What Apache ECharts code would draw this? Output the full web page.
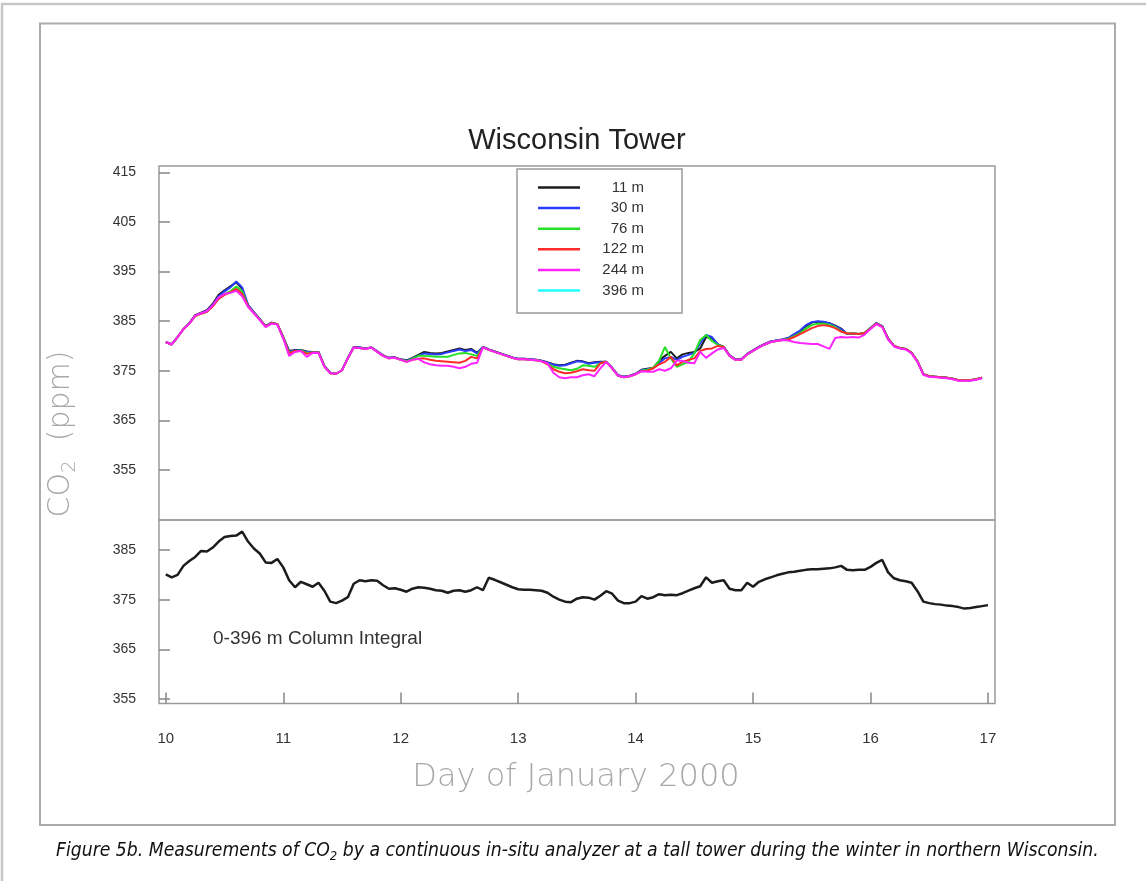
<!DOCTYPE html>
<html><head><meta charset="utf-8">
<script src="https://cdn.jsdelivr.net/npm/echarts@6/dist/echarts.min.js"></script>
<style>html,body{margin:0;padding:0;background:#fff;overflow:hidden}#c{width:1146px;height:881px;}</style>
</head><body><div id="c"></div>
<script>
// ---- data ----
const days = [
10,10.05,10.1,10.15,10.2,10.25,10.3,10.35,10.4,10.45,
10.5,10.55,10.6,10.65,10.7,10.75,10.8,10.85,10.9,10.95,
11,11.05,11.1,11.15,11.2,11.25,11.3,11.35,11.4,11.45,
11.5,11.55,11.6,11.65,11.7,11.75,11.8,11.85,11.9,11.95,
12,12.05,12.1,12.15,12.2,12.25,12.3,12.35,12.4,12.45,
12.5,12.55,12.6,12.65,12.7,12.75,12.8,12.85,12.9,12.95,
13,13.05,13.1,13.15,13.2,13.25,13.3,13.35,13.4,13.45,
13.5,13.55,13.6,13.65,13.7,13.75,13.8,13.85,13.9,13.95,
14,14.05,14.1,14.15,14.2,14.25,14.3,14.35,14.4,14.45,
14.5,14.55,14.6,14.65,14.7,14.75,14.8,14.85,14.9,14.95,
15,15.05,15.1,15.15,15.2,15.25,15.3,15.35,15.4,15.45,
15.5,15.55,15.6,15.65,15.7,15.75,15.8,15.85,15.9,15.95,
16,16.05,16.1,16.15,16.2,16.25,16.3,16.35,16.4,16.45,
16.5,16.55,16.6,16.65,16.7,16.75,16.8,16.85,16.9,16.95];

const co2_11m = [
380.8,380.3,381.8,383.4,384.6,386.2,386.7,387.2,388.5,390.3,
391.2,392.0,392.8,391.5,388.2,386.8,385.4,384.0,384.7,384.4,
381.8,379.0,379.2,379.2,378.9,378.8,378.8,376.0,374.6,374.4,
375.1,377.6,379.8,379.7,379.5,379.7,378.9,378.1,377.6,377.7,
377.3,377.1,377.6,378.2,378.8,378.6,378.5,378.6,378.9,379.2,
379.5,379.2,379.4,378.6,379.8,379.3,378.9,378.5,378.1,377.7,
377.4,377.4,377.3,377.2,377.0,376.7,376.3,376.1,376.2,376.6,
377.0,376.9,376.5,376.7,376.8,376.8,375.6,374.1,373.8,374.0,
374.4,375.2,375.4,375.6,377.0,378.0,378.8,377.5,378.3,378.6,
378.8,379.5,381.8,381.6,380.3,379.8,378.1,377.3,377.3,378.4,
379.1,379.8,380.4,380.9,381.1,381.3,381.6,382.3,382.9,384.0,
384.7,384.9,384.8,384.6,384.1,383.5,382.4,382.5,382.4,382.6,
383.6,384.6,384.0,381.5,380.0,379.6,379.4,378.6,376.9,374.3,
373.9,373.8,373.7,373.6,373.4,373.1,373.1,373.1,373.3,373.6];

const co2_30m = [
380.8,380.3,381.8,383.4,384.6,386.1,386.6,387.1,388.3,390.0,
391.0,391.8,393.0,391.8,388.3,386.8,385.4,384.0,384.7,384.4,
381.7,378.9,379.1,379.1,378.8,378.8,378.8,376.0,374.6,374.4,
375.1,377.6,379.8,379.7,379.5,379.7,378.9,378.1,377.6,377.7,
377.3,377.0,377.5,378.0,378.5,378.4,378.3,378.4,378.7,379.0,
379.3,379.0,379.2,378.5,379.8,379.3,378.9,378.5,378.1,377.7,
377.4,377.4,377.3,377.2,377.0,376.6,376.2,376.0,376.1,376.5,
376.9,376.8,376.4,376.6,376.7,376.8,375.6,374.1,373.8,374.0,
374.4,375.1,375.3,375.5,376.5,377.5,377.8,377.2,377.8,378.2,
378.6,380.5,382.2,381.8,380.3,379.8,378.1,377.3,377.3,378.4,
379.1,379.8,380.4,380.9,381.1,381.3,381.6,382.4,383.1,384.2,
384.8,385.0,384.9,384.6,384.0,383.4,382.4,382.5,382.4,382.6,
383.6,384.6,384.0,381.5,380.0,379.6,379.4,378.6,376.9,374.3,
373.9,373.8,373.7,373.6,373.4,373.1,373.1,373.1,373.3,373.6];

const co2_76m = [
380.8,380.3,381.8,383.4,384.5,386.0,386.5,386.9,388.1,389.6,
390.5,391.0,392.0,391.0,388.0,386.7,385.3,383.9,384.6,384.4,
381.6,378.6,379.0,379.1,378.6,378.7,378.7,375.9,374.5,374.4,
375.1,377.5,379.7,379.6,379.4,379.7,378.8,378.0,377.5,377.6,
377.2,376.9,377.4,378.0,378.0,377.9,377.8,377.8,377.8,378.2,
378.5,378.6,378.3,378.0,379.7,379.2,378.8,378.4,378.0,377.6,
377.3,377.3,377.2,377.1,376.9,376.4,375.8,375.5,375.3,375.1,
375.4,376.1,376.0,375.8,376.5,376.8,375.5,374.0,373.7,373.9,
374.3,375.0,375.2,375.6,377.0,379.8,377.5,375.8,376.3,376.8,
378.5,381.2,382.2,381.0,380.2,379.8,378.0,377.2,377.2,378.3,
379.0,379.7,380.3,380.8,381.0,381.2,381.4,382.0,382.6,383.5,
384.2,384.5,384.5,384.3,383.8,383.0,382.5,382.5,382.4,382.6,
383.6,384.5,383.9,381.4,380.0,379.6,379.4,378.6,376.9,374.3,
373.9,373.8,373.7,373.6,373.4,373.1,373.1,373.1,373.3,373.6];

const co2_122m = [
380.8,380.3,381.8,383.4,384.5,386.0,386.5,386.9,388.0,389.5,
390.3,390.8,391.5,390.5,388.0,386.6,385.3,383.9,384.6,384.4,
381.6,378.5,379.0,379.0,378.4,378.7,378.7,375.9,374.5,374.4,
375.1,377.5,379.7,379.6,379.4,379.7,378.8,378.0,377.5,377.6,
377.2,376.8,377.2,377.4,377.5,377.2,377.0,376.9,376.8,376.7,
376.6,377.0,377.8,377.5,379.7,379.2,378.8,378.4,378.0,377.6,
377.3,377.3,377.2,377.1,376.9,376.3,375.3,374.8,374.5,374.6,
374.9,375.3,375.1,375.0,376.5,376.8,375.5,374.0,373.7,373.9,
374.3,374.9,375.0,375.5,376.3,376.8,377.8,376.1,376.8,377.2,
377.5,379.0,379.4,379.5,380.0,379.8,378.0,377.2,377.2,378.3,
379.0,379.7,380.3,380.8,381.0,381.2,381.3,381.8,382.4,383.0,
383.6,384.0,384.2,384.0,383.6,382.9,382.5,382.5,382.4,382.6,
383.5,384.5,383.9,381.4,380.0,379.6,379.4,378.6,376.9,374.3,
373.9,373.8,373.7,373.6,373.4,373.1,373.1,373.1,373.3,373.6];

const co2_244m = [
380.8,380.3,381.8,383.4,384.5,386.1,386.6,387.0,388.2,389.8,
390.5,390.7,391.1,390.0,387.9,386.6,385.2,383.8,384.5,384.3,
381.5,378.0,378.8,379.0,377.8,378.6,378.6,375.8,374.5,374.4,
375.1,377.5,379.7,379.6,379.4,379.7,378.8,378.0,377.5,377.6,
377.2,376.8,377.2,377.4,376.7,376.3,376.1,376.0,376.0,375.8,
375.5,375.8,376.4,376.6,379.7,379.2,378.8,378.4,378.0,377.6,
377.3,377.3,377.2,377.1,376.9,376.5,374.6,373.7,373.5,373.7,
373.7,374.1,374.3,373.9,375.5,376.8,375.5,374.0,373.7,373.9,
374.3,374.9,374.8,374.8,375.3,375.0,375.5,377.0,377.0,376.6,
376.5,378.8,377.6,378.5,379.3,379.6,378.0,377.2,377.2,378.3,
379.0,379.7,380.3,380.8,381.0,381.2,381.1,380.8,380.6,380.5,
380.4,380.4,379.9,379.4,381.6,381.8,381.7,381.8,381.7,382.3,
383.4,384.4,383.8,381.3,379.9,379.5,379.3,378.5,376.8,374.2,
373.8,373.7,373.6,373.5,373.3,373.0,373.0,373.0,373.2,373.5];

const co2_396m = []; // no visible record for 396 m

const colDays = days.concat([17]);
const columnIntegral = [
380.1,379.5,380.0,381.8,382.8,383.6,384.8,384.7,385.5,386.7,
387.6,387.8,387.9,388.7,386.7,385.3,384.3,382.5,382.4,383.2,
381.5,378.9,377.5,378.6,378.1,377.6,378.4,376.8,374.6,374.3,
374.8,375.5,378.2,378.9,378.7,378.9,378.8,377.9,377.2,377.3,
377.0,376.6,377.2,377.5,377.4,377.2,376.9,376.8,376.4,376.8,
376.9,376.6,376.9,377.5,376.9,379.4,379.0,378.5,378.0,377.5,
377.1,377.0,377.0,376.9,376.8,376.4,375.6,375.0,374.6,374.5,
375.2,375.5,375.4,375.0,375.8,376.7,376.2,374.8,374.3,374.3,
374.6,375.7,375.2,375.5,376.1,375.9,376.0,375.9,376.3,376.8,
377.3,377.7,379.5,378.4,378.7,378.9,377.2,376.9,376.9,378.4,
377.6,378.6,379.1,379.5,379.9,380.2,380.5,380.6,380.8,381.0,
381.1,381.1,381.2,381.3,381.5,381.8,381.0,380.9,381.0,381.0,
381.6,382.4,383.0,380.5,379.3,378.9,378.7,378.4,376.7,374.6,
374.3,374.1,374.0,373.8,373.7,373.5,373.2,373.3,373.5,373.7,
373.9];

const dayTicks = [10,11,12,13,14,15,16,17];
const topTicks = [355,365,375,385,395,405,415];
const bottomTicks = [355,365,375,385];
const seriesNames = ['11 m','30 m','76 m','122 m','244 m','396 m'];
const seriesColors = ['#1c1c1c','#2a3cff','#25e025','#ff2b2b','#ff24ff','#22ffff'];
const seriesValues = [co2_11m, co2_30m, co2_76m, co2_122m, co2_244m, co2_396m];

// ---- chart ----
const chart = echarts.init(document.getElementById('c'), null, {renderer:'canvas'});
const FONT = "'Liberation Sans', Arial, sans-serif";
const THIN = "'DejaVu Sans', sans-serif";
const NARROW = "'Liberation Sans Narrow', 'DejaVu Sans Condensed', sans-serif";
const pair = (xs, ys) => ys.map((v, i) => [xs[i], v]);

const drawOrder = [5,0,1,2,3,4];
const topSeries = drawOrder.map(k => ({
  name: seriesNames[k], type: 'line', xAxisIndex: 0, yAxisIndex: 0,
  data: pair(days, seriesValues[k]), showSymbol: false, symbol: 'none',
  lineStyle: {color: seriesColors[k], width: 2}, itemStyle: {color: seriesColors[k]},
  animation: false, z: 2 + k
}));

const axisCommon = {
  splitLine: {show: false}, axisLine: {show: false}
};

const option = {
  backgroundColor: '#fff',
  animation: false,
  title: {
    text: 'Wisconsin Tower', left: 572, top: 121, textAlign: 'center',
    textStyle: {fontFamily: FONT, fontSize: 29, fontWeight: 'normal', color: '#222'}
  },
  legend: {
    data: seriesNames, orient: 'vertical', left: 517, top: 169,
    padding: [11, 38, 15, 21], itemGap: 5.6, itemWidth: 42, itemHeight: 2.5,
    icon: 'rect', borderColor: '#9a9a9a', borderWidth: 1.5, backgroundColor: '#fff',
    selectedMode: false,
    formatter: n => '{a|' + n + '}',
    textStyle: {rich: {a: {width: 59, align: 'right', fontFamily: FONT, fontSize: 15, lineHeight: 15, color: '#333'}}}
  },
  grid: [
    {left: 159, top: 166, width: 836, height: 354, show: true, borderColor: '#9a9a9a', borderWidth: 1.5, backgroundColor: 'transparent'},
    {left: 159, top: 520, width: 836, height: 183.5, show: true, borderColor: '#9a9a9a', borderWidth: 1.5, backgroundColor: 'transparent'}
  ],
  xAxis: [
    Object.assign({type: 'value', gridIndex: 0, min: 9.942, max: 17.06,
      axisTick: {show: false}, axisLabel: {show: false}}, axisCommon),
    Object.assign({type: 'value', gridIndex: 1, min: 9.942, max: 17.06,
      axisTick: {show: true, inside: true, length: 11, customValues: dayTicks, lineStyle: {color: '#888', width: 1.5}},
      axisLabel: {show: true, customValues: dayTicks, margin: 28, fontFamily: FONT, fontSize: 15, color: '#333'}}, axisCommon)
  ],
  yAxis: [
    Object.assign({type: 'value', gridIndex: 0, min: 344.92, max: 416.27,
      axisTick: {show: true, inside: true, length: 11, customValues: topTicks, lineStyle: {color: '#888', width: 1.5}},
      axisLabel: {show: true, customValues: topTicks, margin: 23, fontFamily: FONT, fontSize: 14, color: '#333'}}, axisCommon),
    Object.assign({type: 'value', gridIndex: 1, min: 354.09, max: 391.04,
      axisTick: {show: true, inside: true, length: 11, customValues: bottomTicks, lineStyle: {color: '#888', width: 1.5}},
      axisLabel: {show: true, customValues: bottomTicks, margin: 23, fontFamily: FONT, fontSize: 14, color: '#333'}}, axisCommon)
  ],
  series: topSeries.concat([{
    name: 'Column Integral', type: 'line', xAxisIndex: 1, yAxisIndex: 1,
    data: pair(colDays, columnIntegral), showSymbol: false, symbol: 'none',
    lineStyle: {color: '#1c1c1c', width: 2.5}, animation: false
  }]),
  graphic: [
    {type: 'rect', silent: true, z: -10, shape: {x: 2, y: 4, width: 1400, height: 1200},
      style: {fill: 'none', stroke: '#c6c6c6', lineWidth: 2.5}},
    {type: 'rect', silent: true, z: -9, shape: {x: 40, y: 23.5, width: 1075, height: 801.5},
      style: {fill: 'none', stroke: '#ababab', lineWidth: 2}},
    {type: 'text', silent: true, x: 61, y: 434, rotation: Math.PI / 2,
      style: {text: '{a|CO}{s|2}{a|  (ppm)}', align: 'center', verticalAlign: 'middle',
        rich: {a: {fontFamily: THIN, fontWeight: 200, fontSize: 30, fill: '#a8a8a8', color: '#a8a8a8', lineHeight: 38},
               s: {fontFamily: THIN, fontWeight: 200, fontSize: 20, fill: '#a8a8a8', color: '#a8a8a8', lineHeight: 38, verticalAlign: 'bottom', padding: [11, 0, 0, 0]}}}},
    {type: 'text', silent: true, x: 576, y: 778,
      style: {text: 'Day of January 2000', align: 'center', verticalAlign: 'middle',
        fontFamily: THIN, fontWeight: 200, fontSize: 32, fill: '#a8a8a8'}},
    {type: 'text', silent: true, x: 213, y: 639,
      style: {text: '0-396 m Column Integral', align: 'left', verticalAlign: 'middle',
        fontFamily: FONT, fontSize: 19, fill: '#333'}},
    {type: 'text', silent: true, x: 56, y: 851,
      style: {text: '{a|Figure 5b. Measurements of CO}{s|2}{a| by a continuous in-situ analyzer at a tall tower during the winter in northern Wisconsin.}',
        align: 'left', verticalAlign: 'middle',
        rich: {a: {fontFamily: NARROW, fontStyle: 'italic', fontSize: 19.2, fill: '#111', color: '#111', lineHeight: 24},
               s: {fontFamily: NARROW, fontStyle: 'italic', fontSize: 13, fill: '#111', color: '#111', lineHeight: 24, verticalAlign: 'bottom', padding: [8, 0, 0, 0]}}}}
  ]
};
chart.setOption(option);
</script></body></html>
